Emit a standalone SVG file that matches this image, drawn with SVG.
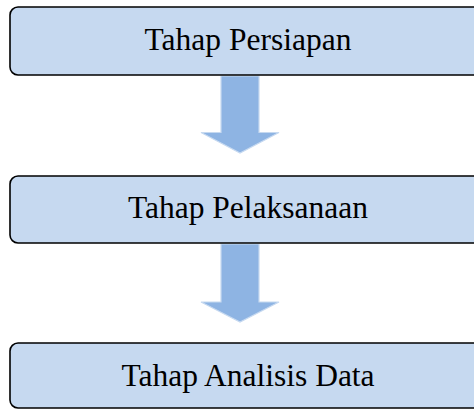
<svg xmlns="http://www.w3.org/2000/svg" width="474" height="410" viewBox="0 0 474 410">
  <style>
    .box { fill: #c6d9f0; stroke: #000; stroke-width: 1.6; }
    .label { font-size: 31.5px; fill: #000; text-anchor: middle; }
    .arrow { fill: #8eb4e3; stroke: #c6d9f0; stroke-width: 1.2; stroke-linejoin: miter; }
  </style>
  <rect width="474" height="410" fill="#fff"/>

  <!-- down arrows between the stages -->
  <g id="connectors">
    <path class="arrow" d="M221,76 H259 V132.5 H279 L240,153 L201,132.5 H221 Z"/>
    <path class="arrow" d="M221,244 H259 V302 H279 L240,322 L201,302 H221 Z"/>
  </g>

  <g font-family="'Liberation Serif', 'Times New Roman', Times, serif">
    <g id="stage-persiapan">
      <rect class="box" x="10" y="7" width="478" height="68" rx="8"/>
      <text class="label" x="248" y="50">Tahap Persiapan</text>
    </g>

    <g id="stage-pelaksanaan">
      <rect class="box" x="10" y="176" width="478" height="67" rx="8"/>
      <text class="label" x="248" y="218">Tahap Pelaksanaan</text>
    </g>

    <g id="stage-analisis">
      <rect class="box" x="10" y="343" width="478" height="65" rx="8"/>
      <text class="label" x="248" y="386">Tahap Analisis Data</text>
    </g>
  </g>
</svg>
